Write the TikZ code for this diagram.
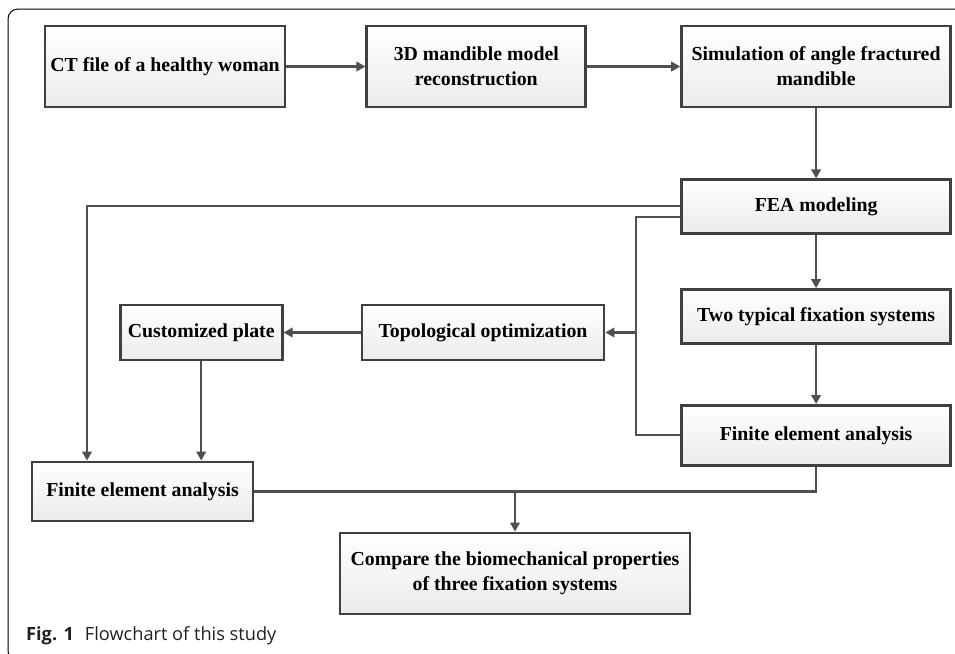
\documentclass[tikz,border=0pt]{standalone}
\usepackage{fontspec}
\setmainfont{Liberation Serif}
\newfontfamily\capfont{Open Sans}
\usetikzlibrary{arrows.meta,positioning,calc}
\definecolor{boxline}{HTML}{404040}
\definecolor{conline}{HTML}{505050}
\definecolor{captext}{HTML}{231F20}

\begin{document}
\begin{tikzpicture}[
    x=1pt, y=-1pt,
    box/.style={
      draw=boxline, line width=2.8pt, inner sep=0pt,
      top color=white, bottom color=gray!16,
      align=center, font=\bfseries\fontsize{19.8}{25}\selectfont
    },
    wide/.style={minimum width=#1pt},
    tall/.style={minimum height=#1pt},
    con/.style={draw=conline, line width=2.1pt},
    arr/.style={con, -{Triangle[length=9pt, width=9.5pt]}}
  ]
    \useasboundingbox (0,0) rectangle (955,653);

    % panel frame
    \draw[line width=1pt, rounded corners=10pt] (955,9) -- (8,9) -- (8,661) -- (30,661);

    % top row
    \node[box, wide=240, tall=81] (ct) at (165,66.5) {CT file of a healthy woman};
    \node[box, wide=219, tall=81, right=79pt of ct] (mand) {3D mandible model\\reconstruction};
    \node[box, wide=269, tall=81, right=93pt of mand] (sim) {Simulation of angle fractured\\mandible};

    % right column
    \node[box, wide=269, tall=54, below=70pt of sim] (fea) {FEA modeling};
    \node[box, wide=269, tall=54, below=53pt of fea] (two) {Two typical fixation systems};
    \node[box, wide=269, tall=60, below=59pt of two] (fer) {Finite element analysis};

    % middle row
    \node[box, wide=242, tall=55] (topo) at (483,332.5) {Topological optimization};
    \node[box, wide=162, tall=55, left=77pt of topo] (plate) {Customized plate};

    % bottom
    \node[box, wide=221, tall=59] (fel) at (142.5,491.5) {Finite element analysis};
    \node[box, wide=350, tall=81] (cmp) at (515,573.5) {Compare the biomechanical properties\\of three fixation systems};

    \coordinate (split) at (636,332.5);

    \draw[arr] (ct) -- (mand);
    \draw[arr] (mand) -- (sim);
    \draw[arr] (sim) -- (fea);
    \draw[arr] (fea) -- (two);
    \draw[arr] (two) -- (fer);

    \draw[arr] ([yshift=1pt]fea.west) -| ([xshift=-55.5pt]fel.north);
    \draw[con] ([yshift=-10pt]fea.west) -| (split) |- (fer.west);
    \draw[arr] (split) -- (topo);
    \draw[arr] (topo) -- (plate);
    \draw[arr] (plate) -- (plate |- fel.north);

    \draw[con] (fel.east) -| (fer.south);
    \draw[arr] (fel.east -| cmp.north) -- (cmp.north);

    % caption
    \node[anchor=base west, text=captext, font=\capfont\fontsize{18.2}{21}\selectfont, inner sep=0pt]
      (cap) at (26,640) {\textbf{Fig. 1}\hspace{11pt}Flowchart of this study};
\end{tikzpicture}
\end{document}
